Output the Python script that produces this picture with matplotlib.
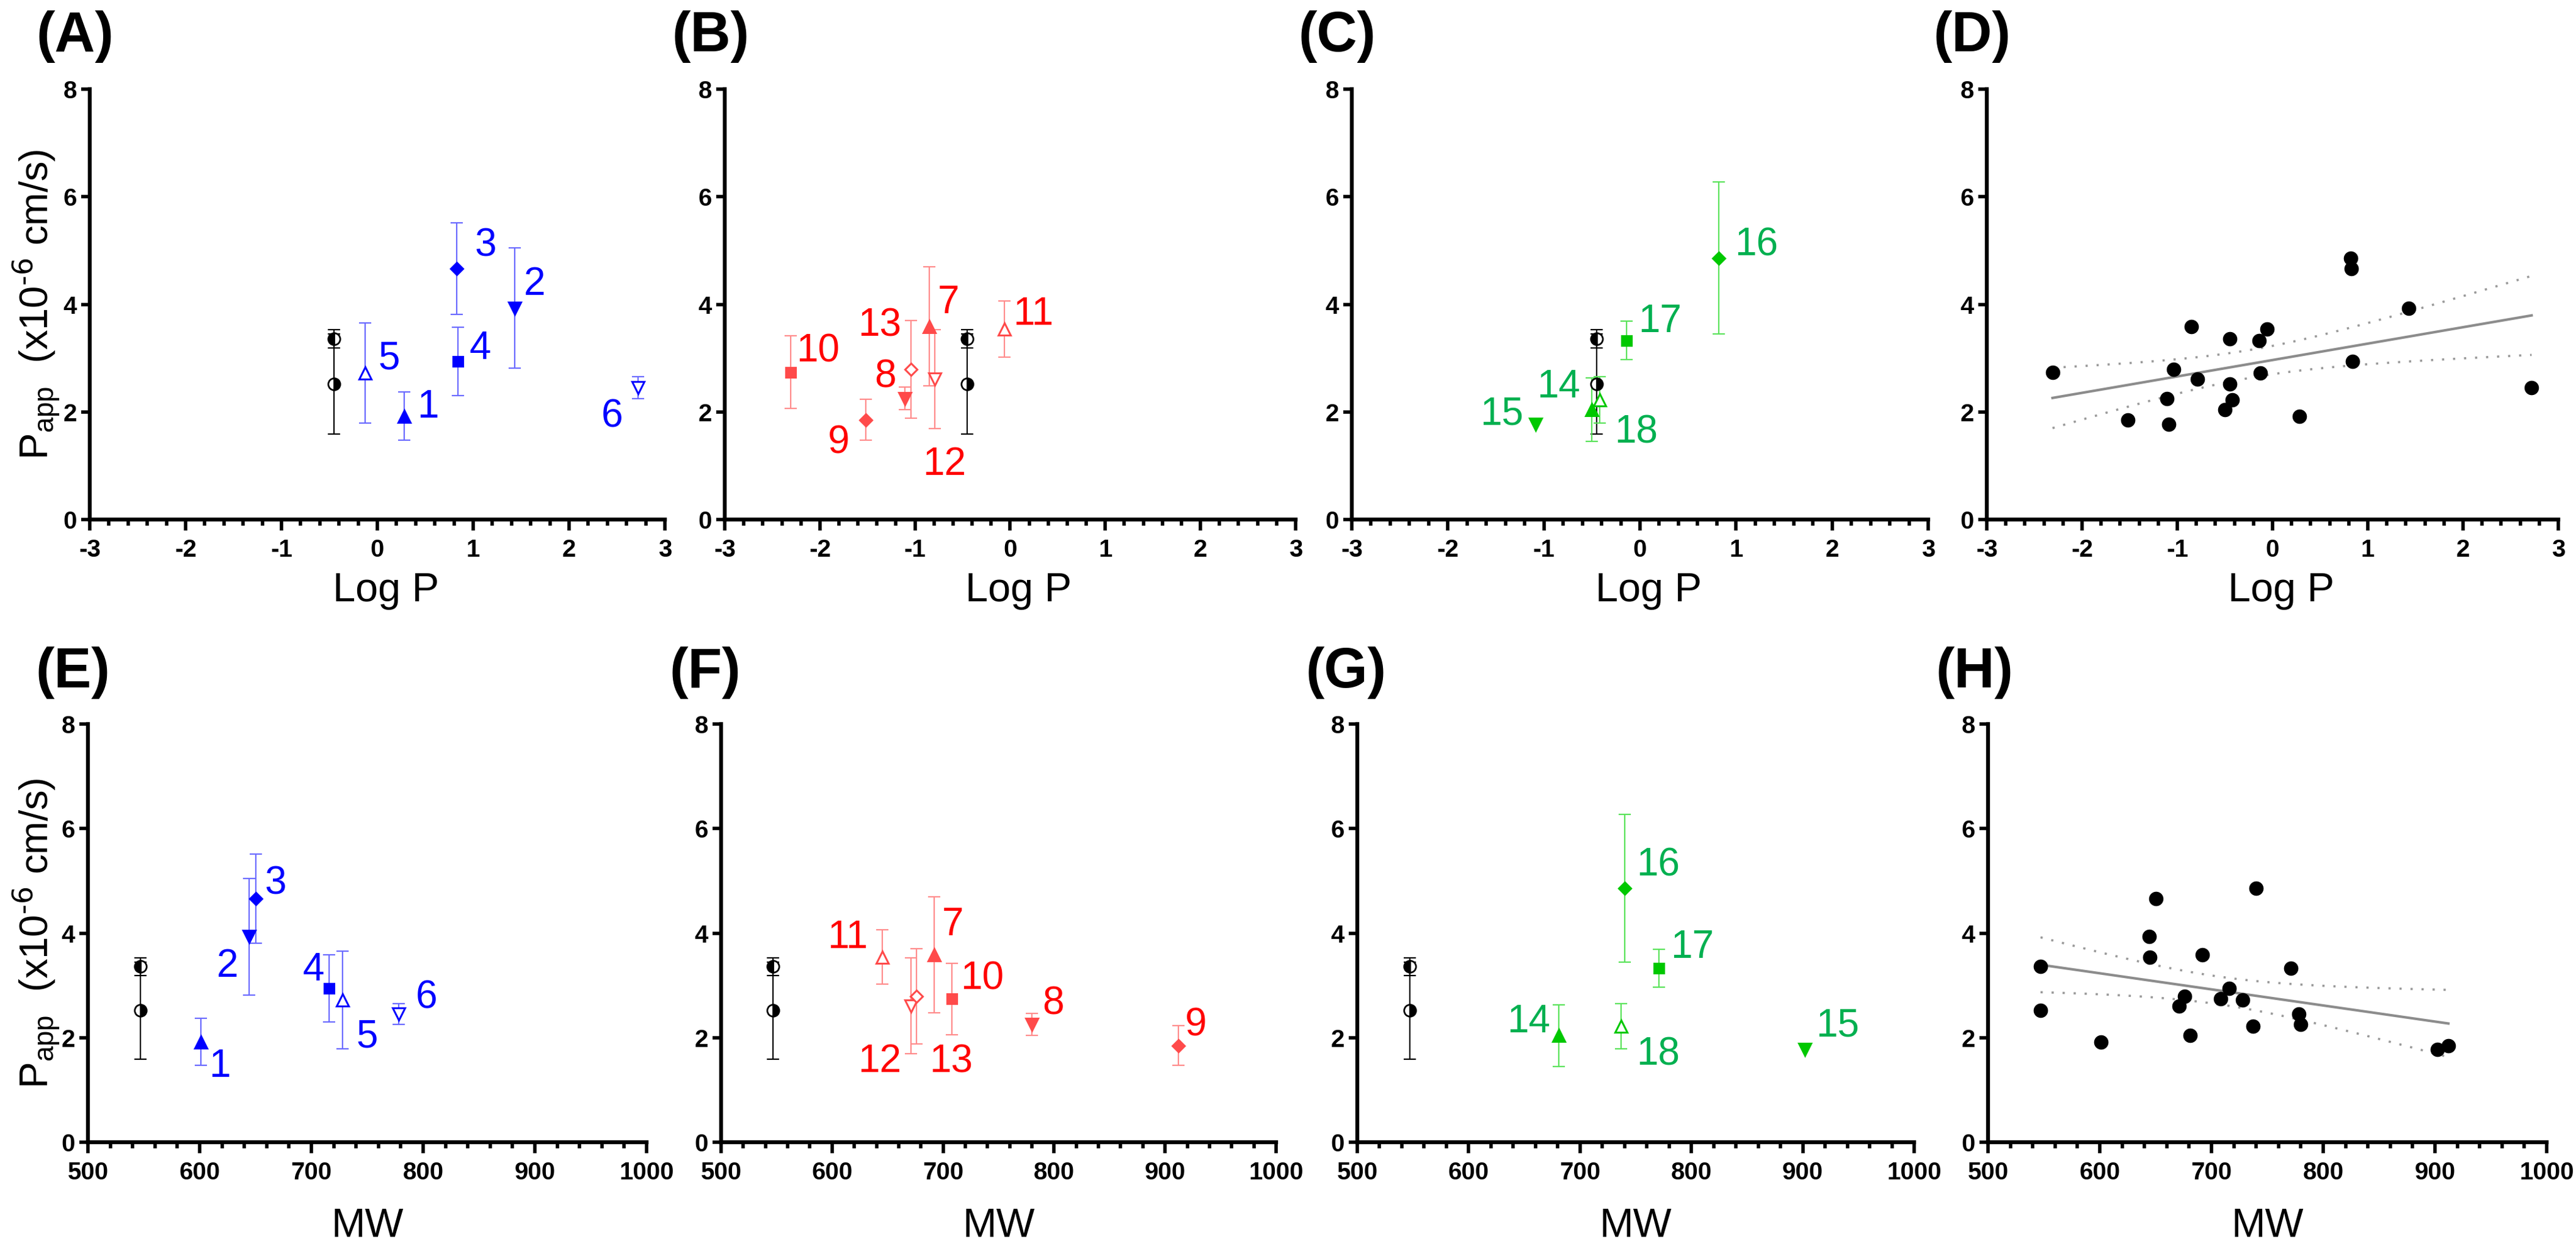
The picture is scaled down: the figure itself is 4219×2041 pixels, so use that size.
import numpy as np
import matplotlib
matplotlib.use("Agg")
import matplotlib.pyplot as plt
from matplotlib.ticker import MultipleLocator

plt.rcParams['font.family'] = ['Liberation Sans', 'DejaVu Sans']
plt.rcParams['mathtext.default'] = 'regular'
plt.rcParams['axes.unicode_minus'] = False

# ---------------- values ----------------
compound_id = [str(i) for i in range(1, 19)]
log_p = [0.28, 1.43, 0.83, 0.84, -0.13, 2.72,
         -0.85, -1.11, -1.52, -2.31, -0.06, -0.79, -1.04,
         -0.50, -1.09, 0.82, -0.14, -0.42]
mw = [601, 644, 650, 716, 728, 778,
      692, 780, 912, 708, 645, 671, 676,
      681, 902, 740, 771, 737]
papp = [1.92, 3.93, 4.66, 2.94, 2.72, 2.45,
        3.59, 2.25, 1.85, 2.74, 3.54, 2.61, 2.79,
        2.04, 1.77, 4.86, 3.33, 2.22]
papp_sd = [0.45, 1.12, 0.85, 0.64, 0.93, 0.20,
           1.11, 0.21, 0.38, 0.68, 0.52, 0.92, 0.91,
           0.59, 0.0, 1.41, 0.36, 0.43]

# two reference compounds (half filled circles)
ref_log_p = [-0.45, -0.45]
ref_mw = [547, 547]
ref_papp = [3.36, 2.52]
ref_sd = [0.17, 0.93]

# compound series: indices into the lists above
series_idx = {
    "blue": [0, 1, 2, 3, 4, 5],
    "red": [6, 7, 8, 9, 10, 11, 12],
    "green": [13, 14, 15, 16, 17],
}

# ---------------- styles / layout ----------------
W, H = 4219, 2041
DPI = 100

colors = {
    # text, marker, error bar
    "blue": ("#0000FF", "#0000FF", "#6B6BFF"),
    "red": ("#FF0000", "#FF4A4A", "#FF8C8C"),
    "green": ("#00B050", "#00C800", "#5BE35B"),
}
shape = ['^', 'v', 'D', 's', '^', 'v', 'D']
filled = [True, True, True, True, False, False, False]
msize = {'^': 14, 'v': 14, 'D': 10.5, 's': 11.5}

# label centres, data coordinates per panel
label_pos = {
    "A": {1: (0.53, 2.16), 2: (1.64, 4.44), 3: (1.13, 5.16), 4: (1.07, 3.24), 5: (0.12, 3.06), 6: (2.45, 1.98)},
    "B": {7: (-0.65, 4.10), 8: (-1.31, 2.72), 9: (-1.80, 1.49), 10: (-2.02, 3.19), 11: (0.24, 3.88),
          12: (-0.69, 1.09), 13: (-1.37, 3.67)},
    "C": {14: (-0.85, 2.53), 15: (-1.44, 2.02), 16: (1.21, 5.17), 17: (0.21, 3.74), 18: (-0.04, 1.68)},
    "E": {1: (618, 1.52), 2: (625, 3.43), 3: (668, 5.02), 4: (702, 3.36), 5: (750, 2.08), 6: (803, 2.83)},
    "F": {7: (709, 4.23), 8: (799, 2.72), 9: (928, 2.31), 10: (735, 3.19), 11: (614, 3.98),
          12: (643, 1.61), 13: (707, 1.61)},
    "G": {14: (654, 2.37), 15: (931, 2.29), 16: (770, 5.37), 17: (801, 3.80), 18: (770, 1.75)},
}

# axes boxes in pixels: left, right, top, bottom
boxes = {
    "A": (147, 1089, 146, 851), "B": (1187, 2122, 146, 851),
    "C": (2214, 3158, 146, 851), "D": (3254, 4190, 146, 851),
    "E": (144, 1059, 1186, 1871), "F": (1181, 2090, 1186, 1871),
    "G": (2223, 3135, 1186, 1871), "H": (3256, 4171, 1186, 1871),
}

# width factor of the dotted bands, set so they match the figure
BAND_T = 1.39


def make_axes(fig, key):
    l, r, t, b = boxes[key]
    return fig.add_axes([l / W, (H - b) / H, (r - l) / W, (b - t) / H])


def style_axes(ax, kind, key):
    for s in ("top", "right"):
        ax.spines[s].set_visible(False)
    for s in ("left", "bottom"):
        ax.spines[s].set_linewidth(4.6)
    if kind == "logp":
        ax.set_xlim(-3, 3)
        ax.xaxis.set_major_locator(MultipleLocator(1))
        ax.xaxis.set_minor_locator(MultipleLocator(0.2))
        ax.set_xlabel("Log P", fontsize=48)
        ax.xaxis.set_label_coords(0.515, -0.122)
    else:
        ax.set_xlim(500, 1000)
        ax.xaxis.set_major_locator(MultipleLocator(100))
        ax.xaxis.set_minor_locator(MultipleLocator(20))
        ax.set_xlabel("MW", fontsize=48)
        ax.xaxis.set_label_coords(0.5, -0.156)
    ax.xaxis.label.set_va("top")
    ax.set_ylim(0, 8)
    ax.yaxis.set_major_locator(MultipleLocator(2))
    ax.tick_params(axis="x", which="major", length=13, width=4, direction="out", pad=9)
    ax.tick_params(axis="x", which="minor", length=7, width=4, direction="out")
    ax.tick_params(axis="y", which="major", length=10, width=4, direction="out", pad=5)
    for lab in ax.get_xticklabels() + ax.get_yticklabels():
        lab.set_fontweight("bold")
        lab.set_fontsize(29)
    ax.text(-0.093, 1.122, f"({key})", transform=ax.transAxes, fontsize=66,
            fontweight="bold", ha="left", va="center")
    if key in ("A", "E"):
        ax.text(-0.092, 0.5, r"P$_{app}$  (x10$^{\text{-6}}$ cm/s)", transform=ax.transAxes,
                rotation=90, ha="center", va="center", fontsize=47)


def draw_reference(ax, xref):
    ax.errorbar(xref, ref_papp, yerr=ref_sd, fmt="none", ecolor="black",
                elinewidth=1.6, capsize=7, capthick=1.6, zorder=2)
    for y, fs in zip(ref_papp, ("left", "right")):
        ax.plot([xref[0]], [y], marker="o", markersize=14, fillstyle=fs,
                markerfacecolor="black", markerfacecoloralt="white",
                markeredgecolor="black", markeredgewidth=2, linestyle="none", zorder=3)


def draw_series(ax, xvals, name, key):
    text_c, mark_c, err_c = colors[name]
    for k, i in enumerate(series_idx[name]):
        m = shape[k]
        if papp_sd[i] > 0:
            ax.errorbar([xvals[i]], [papp[i]], yerr=[papp_sd[i]], fmt="none", ecolor=err_c,
                        elinewidth=1.6, capsize=7, capthick=1.6, zorder=2)
        ax.plot([xvals[i]], [papp[i]], marker=m, markersize=msize[m], linestyle="none",
                markerfacecolor=mark_c if filled[k] else "white",
                markeredgecolor=mark_c, markeredgewidth=2.2, zorder=3)
        lx, ly = label_pos[key][i + 1]
        ax.annotate(compound_id[i], (lx, ly), xytext=(0, -16.5), textcoords="offset points",
                    ha="center", va="baseline", fontsize=46, color=text_c)


def fit_panel(ax, x, y):
    x = np.asarray(x, dtype=float)
    y = np.asarray(y, dtype=float)
    n = len(x)
    slope, icpt = np.polyfit(x, y, 1)
    xs = np.linspace(x.min(), x.max(), 200)
    yhat = icpt + slope * xs
    resid = y - (icpt + slope * x)
    s = np.sqrt(np.sum(resid ** 2) / (n - 2))
    sxx = np.sum((x - x.mean()) ** 2)
    half = BAND_T * s * np.sqrt(1.0 / n + (xs - x.mean()) ** 2 / sxx)
    ax.plot(xs, yhat, color="#8C8C8C", linewidth=3, zorder=2)
    for band in (yhat + half, yhat - half):
        ax.plot(xs, band, color="#9A9A9A", linewidth=2.6, linestyle=(0, (1, 4)), zorder=2)
    ax.plot(x, y, marker="o", markersize=16, linestyle="none", color="black", zorder=3)


fig = plt.figure(figsize=(W / DPI, H / DPI), dpi=DPI)

panels = [("A", "logp", "blue"), ("B", "logp", "red"), ("C", "logp", "green"), ("D", "logp", None),
          ("E", "mw", "blue"), ("F", "mw", "red"), ("G", "mw", "green"), ("H", "mw", None)]

for key, kind, series in panels:
    ax = make_axes(fig, key)
    xvals = log_p if kind == "logp" else mw
    xref = ref_log_p if kind == "logp" else ref_mw
    if series is None:
        fit_panel(ax, xref + xvals, ref_papp + papp)
    else:
        draw_reference(ax, xref)
        draw_series(ax, xvals, series, key)
    style_axes(ax, kind, key)

fig.savefig("out.png", dpi=DPI)
